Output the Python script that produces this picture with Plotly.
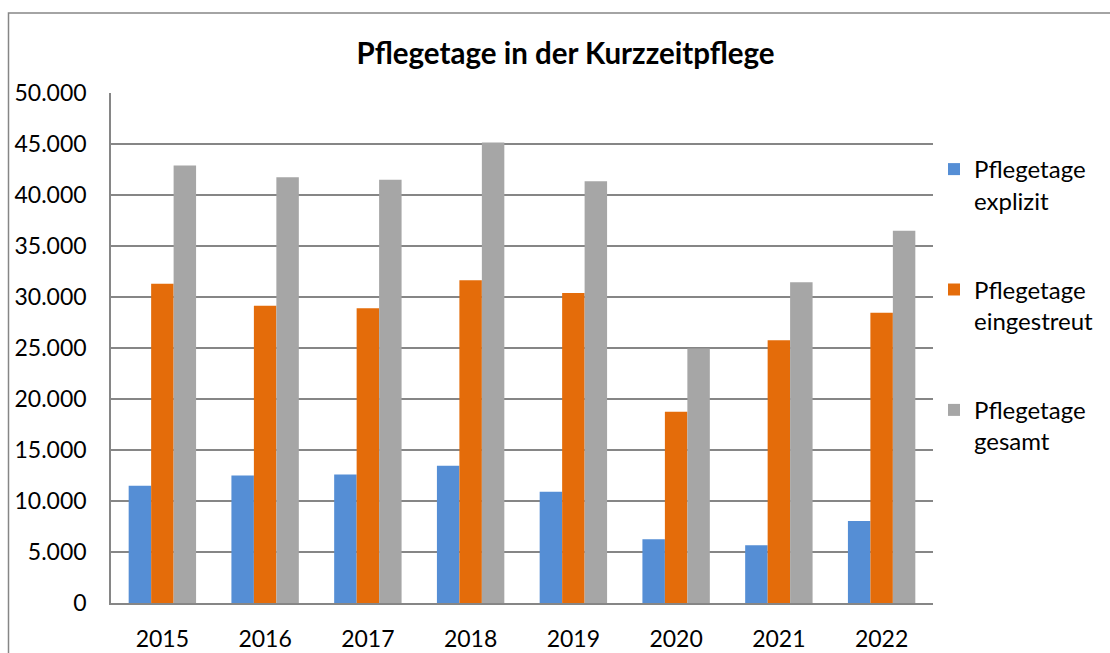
import plotly.graph_objects as go

years = ["2015", "2016", "2017", "2018", "2019", "2020", "2021", "2022"]
explizit = [11500, 12500, 12600, 13450, 10900, 6250, 5650, 8050]
eingestreut = [31300, 29150, 28900, 31650, 30400, 18750, 25750, 28450]
gesamt = [42900, 41750, 41500, 45150, 41350, 24950, 31450, 36500]
names = ["Pflegetage<br>explizit", "Pflegetage<br>eingestreut", "Pflegetage<br>gesamt"]
colors = ["#558ED5", "#E46C0A", "#A6A6A6"]
y_ticks = [0, 5000, 10000, 15000, 20000, 25000, 30000, 35000, 40000, 45000, 50000]

W, H = 1110, 653
L, R, T, B = 111, 177, 93, 50
pw, ph = W - L - R, H - T - B

fig = go.Figure()
for i, (vals, nm, col) in enumerate(zip([explizit, eingestreut, gesamt], names, colors)):
    fig.add_trace(go.Bar(x=years, y=vals, name=nm, marker_color=col,
                         marker_line_width=0, legendgroup=f"g{i}"))

fig.update_layout(
    width=W, height=H,
    margin=dict(l=L, r=R, t=T, b=B, autoexpand=False),
    paper_bgcolor="white", plot_bgcolor="white",
    separators=",.",
    font=dict(family="Lato", size=23, color="#000000"),
    barmode="group", bargap=0.344, bargroupgap=0,
    title=dict(text="<b>Pflegetage in der Kurzzeitpflege</b>", font=dict(family="Lato", size=29.5, color="#000000"),
               x=565.5 / W, xref="container", xanchor="center",
               y=1 - 54 / H, yref="container", yanchor="middle"),
    legend=dict(x=934 / W, xref="container", xanchor="left",
                y=1 - 147 / H, yref="container", yanchor="top",
                font=dict(family="Lato", size=24), valign="top", tracegroupgap=55,
                itemwidth=30, bgcolor="rgba(0,0,0,0)"),
    xaxis=dict(showgrid=False, showline=True, linecolor="#868686", linewidth=1.5,
               ticks="", ticklabelstandoff=15, tickfont=dict(size=23), automargin=False),
    yaxis=dict(range=[0, 50000], tickvals=y_ticks, tickformat=",d", showgrid=True,
               gridcolor="#868686", gridwidth=1.5, showline=True, linecolor="#868686",
               linewidth=1.5, ticks="", ticklabelstandoff=18, zeroline=False,
               tickfont=dict(size=23), automargin=False),
    shapes=[dict(type="rect", xref="paper", yref="paper",
                 x0=(8.5 - L) / pw, x1=(1130 - L) / pw,
                 y0=-(70) / ph, y1=1 + (T - 13) / ph,
                 line=dict(color="#868686", width=1.5), fillcolor="rgba(0,0,0,0)", layer="below")],
)

fig.write_html("out.html", config={"displayModeBar": False},
               post_script="document.body.style.margin='0px';document.body.style.overflow='hidden';")
